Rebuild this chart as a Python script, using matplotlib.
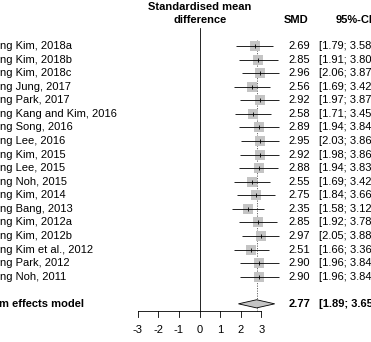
import matplotlib
matplotlib.use("Agg")
import matplotlib.pyplot as plt
from matplotlib.patches import Polygon

plt.rcParams["font.family"] = ["Liberation Sans", "DejaVu Sans"]
plt.rcParams["font.size"] = 8

# study labels (left part cropped in the reference)
studies = [
    "ng Kim, 2018a", "ng Kim, 2018b", "ng Kim, 2018c", "ng Jung, 2017",
    "ng Park, 2017", "ng Kang and Kim, 2016", "ng Song, 2016", "ng Lee, 2016",
    "ng Kim, 2015", "ng Lee, 2015", "ng Noh, 2015", "ng Kim, 2014",
    "ng Bang, 2013", "ng Kim, 2012a", "ng Kim, 2012b", "ng Kim et al., 2012",
    "ng Park, 2012", "ng Noh, 2011",
]
smd = [2.69, 2.85, 2.96, 2.56, 2.92, 2.58, 2.89, 2.95, 2.92, 2.88,
       2.55, 2.75, 2.35, 2.85, 2.97, 2.51, 2.90, 2.90]
lower = [1.79, 1.91, 2.06, 1.69, 1.97, 1.71, 1.94, 2.03, 1.98, 1.94,
         1.69, 1.84, 1.58, 1.92, 2.05, 1.66, 1.96, 1.96]
upper = [3.58, 3.80, 3.87, 3.42, 3.87, 3.45, 3.84, 3.86, 3.86, 3.83,
         3.42, 3.66, 3.12, 3.78, 3.88, 3.36, 3.84, 3.84]
pooled_label = "m effects model"
pooled = (2.77, 1.89, 3.65)
ticks = [-3, -2, -1, 0, 1, 2, 3]

W, H = 371, 342
X0, XS = 199.5, 20.6      # pixel of SMD=0, pixels per unit
Y0, YS = 46.0, 13.57      # pixel of first row, pixels per row

fig = plt.figure(figsize=(W / 100, H / 100), dpi=100)
ax = fig.add_axes([0, 0, 1, 1])
ax.set_xlim(-X0 / XS, (W - X0) / XS)
ax.set_ylim((H - Y0) / YS, -Y0 / YS)
ax.axis("off")

n = len(studies)
rows = list(range(n))
pool_row = n + 1
axis_row = (311 - Y0) / YS
xleft = -X0 / XS + 0.02
x_smd = (310 - X0) / XS
x_ci = (318.5 - X0) / XS

# reference lines
ax.plot([0, 0], [(28 - Y0) / YS, axis_row], color="black", lw=0.6)
ax.plot([pooled[0], pooled[0]], [-0.45, axis_row], color="#555555", lw=0.6,
        ls=(0, (1.5, 1.5)))

# study estimates
ax.hlines(rows, lower, upper, color="#111111", lw=0.65, zorder=3)
ax.scatter(smd, rows, marker="s", s=55, color="#c4c4c4", lw=0, zorder=2)
ax.scatter(smd, rows, marker="|", s=12, color="black", lw=0.6, zorder=4)

for i in rows:
    ax.text(xleft, i, studies[i], ha="left", va="center")
    ax.text(x_smd, i, f"{smd[i]:.2f}", ha="right", va="center")
    ax.text(x_ci, i, f"[{lower[i]:.2f}; {upper[i]:.2f}]", ha="left", va="center")

# pooled diamond
m, lo, hi = pooled
d = 0.3
ax.add_patch(Polygon([(lo, pool_row), (m, pool_row - d), (hi, pool_row),
                      (m, pool_row + d)], closed=True, facecolor="#c4c4c4",
                     edgecolor="black", lw=0.6, zorder=3))
ax.text(xleft - 0.05, pool_row, pooled_label, ha="left", va="center",
        fontweight="bold")
ax.text(x_smd, pool_row, f"{m:.2f}", ha="right", va="center", fontweight="bold")
ax.text(x_ci, pool_row, f"[{lo:.2f}; {hi:.2f}]", ha="left", va="center",
        fontweight="bold")

# x axis
ax.plot([ticks[0], ticks[-1]], [axis_row, axis_row], color="black", lw=0.6)
for t in ticks:
    ax.plot([t, t], [axis_row, axis_row + 0.45], color="black", lw=0.6)
    ax.text(t, (330 - Y0) / YS, str(t), ha="center", va="center")

# headers
ax.text(0.02, (6.5 - Y0) / YS, "Standardised mean", ha="center", va="center",
        fontweight="bold")
ax.text(0.02, (20 - Y0) / YS, "difference", ha="center", va="center",
        fontweight="bold")
ax.text(x_smd - 0.05, (20 - Y0) / YS, "SMD", ha="right", va="center",
        fontweight="bold")
ax.text((336 - X0) / XS, (20 - Y0) / YS, "95%-CI", ha="left", va="center",
        fontweight="bold")

fig.savefig("out.png", dpi=100)
